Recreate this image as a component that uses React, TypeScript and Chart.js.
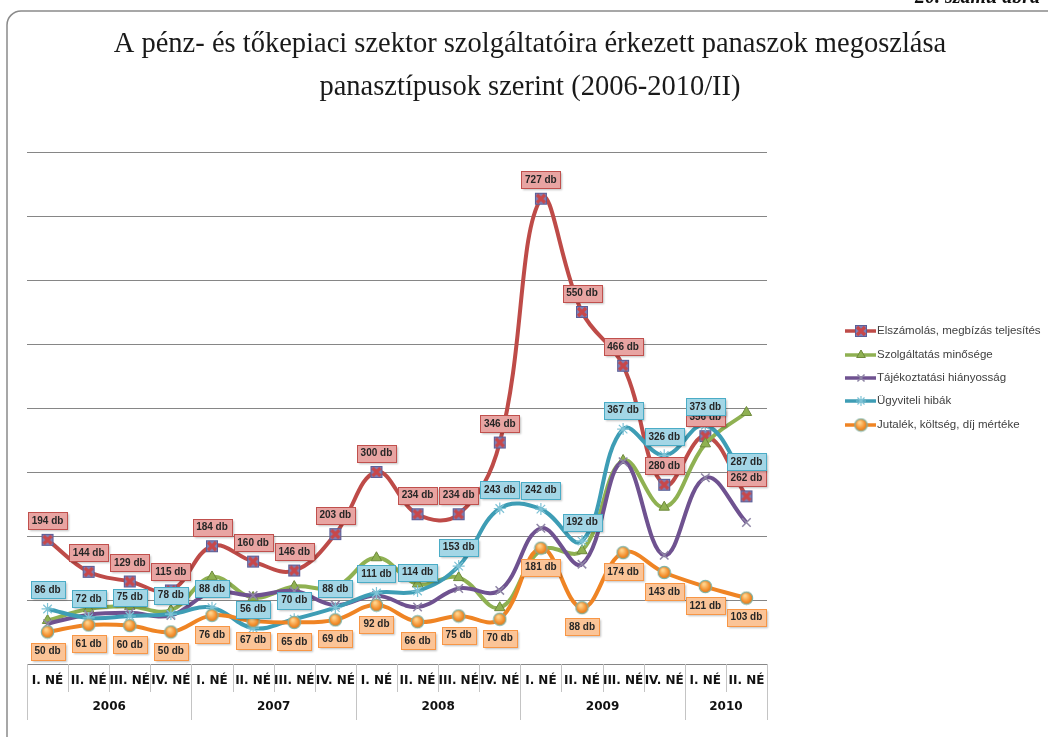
import React, { useEffect, useRef } from 'react';
import { Chart, registerables } from 'chart.js';
import { drawPoint } from 'chart.js/helpers';

Chart.register(...registerables);

const TITLE_LINES = [
  'A pénz- és tőkepiaci szektor szolgáltatóira érkezett panaszok megoszlása',
  'panasztípusok szerint (2006-2010/II)',
];
const FIGURE_NO = '20. számú ábra';

const QUARTERS = [
  'I. NÉ', 'II. NÉ', 'III. NÉ', 'IV. NÉ',
  'I. NÉ', 'II. NÉ', 'III. NÉ', 'IV. NÉ',
  'I. NÉ', 'II. NÉ', 'III. NÉ', 'IV. NÉ',
  'I. NÉ', 'II. NÉ', 'III. NÉ', 'IV. NÉ',
  'I. NÉ', 'II. NÉ',
];
const YEARS = [
  '2006', '2006', '2006', '2006',
  '2007', '2007', '2007', '2007',
  '2008', '2008', '2008', '2008',
  '2009', '2009', '2009', '2009',
  '2010', '2010',
];

const SERIES_NAMES = [
  'Elszámolás, megbízás teljesítés',
  'Szolgáltatás minősége',
  'Tájékoztatási hiányosság',
  'Ügyviteli hibák',
  'Jutalék, költség, díj mértéke',
];

const elszamolas = [194, 144, 129, 115, 184, 160, 146, 203, 300, 234, 234, 346, 727, 550, 466, 280, 356, 262];
const szolgaltatas = [68, 86, 90, 84, 136, 104, 121, 120, 166, 125, 135, 88, 178, 177, 318, 245, 344, 393];
const tajekoztatas = [63, 77, 80, 76, 112, 107, 114, 92, 107, 89, 118, 115, 212, 156, 316, 170, 291, 221];
const ugyviteli = [86, 72, 75, 78, 88, 56, 70, 88, 111, 114, 153, 243, 242, 192, 367, 326, 373, 287];
const jutalek = [50, 61, 60, 50, 76, 67, 65, 69, 92, 66, 75, 70, 181, 88, 174, 143, 121, 103];

const Y_MAX = 800;
const Y_STEP = 100;
const UNIT = ' db';

function makeSquareMarker(): HTMLCanvasElement {
  const c = document.createElement('canvas');
  c.width = 14;
  c.height = 14;
  const g = c.getContext('2d')!;
  g.fillStyle = '#7d80b6';
  g.fillRect(1, 1, 12, 12);
  g.strokeStyle = '#c8474a';
  g.lineWidth = 3.2;
  g.beginPath();
  g.moveTo(3, 3);
  g.lineTo(11, 11);
  g.moveTo(11, 3);
  g.lineTo(3, 11);
  g.stroke();
  g.strokeStyle = '#5b5f98';
  g.lineWidth = 1;
  g.strokeRect(1.5, 1.5, 11, 11);
  return c;
}

function makeCircleMarker(): HTMLCanvasElement {
  const c = document.createElement('canvas');
  c.width = 15;
  c.height = 15;
  const g = c.getContext('2d')!;
  const grad = g.createRadialGradient(6, 5, 1, 7.5, 7.5, 7);
  grad.addColorStop(0, '#ffd28a');
  grad.addColorStop(0.6, '#f4902f');
  grad.addColorStop(1, '#d66f12');
  g.fillStyle = grad;
  g.beginPath();
  g.arc(7.5, 7.5, 6.2, 0, Math.PI * 2);
  g.fill();
  g.strokeStyle = '#7fb3a6';
  g.lineWidth = 1.2;
  g.stroke();
  return c;
}

const LABEL_STYLES: Record<number, { pos: 'above' | 'below'; fill: string; border: string }> = {
  0: { pos: 'above', fill: '#e8a4a2', border: '#c0504d' },
  3: { pos: 'above', fill: '#a3d6e6', border: '#4bacc6' },
  4: { pos: 'below', fill: '#fbc497', border: '#f79646' },
};

const framePlugin = {
  id: 'frameAndTitle',
  beforeDraw(chart: any) {
    const ctx = chart.ctx as CanvasRenderingContext2D;
    ctx.save();
    ctx.fillStyle = '#ffffff';
    ctx.fillRect(0, 0, chart.width, chart.height);
    ctx.strokeStyle = '#8a8a8a';
    ctx.lineWidth = 1.5;
    ctx.beginPath();
    (ctx as any).roundRect(7, 11, 1200, 900, 14);
    ctx.stroke();
    ctx.fillStyle = '#1a1a1a';
    ctx.font = '28.5px "Liberation Serif", serif';
    ctx.textAlign = 'center';
    ctx.textBaseline = 'middle';
    const cx = 530;
    TITLE_LINES.forEach((line, i) => {
      ctx.fillText(line, cx, 45 + i * 43);
    });
    ctx.restore();
  },
};

const tablePlugin = {
  id: 'axisTable',
  afterDraw(chart: any) {
    const ctx = chart.ctx as CanvasRenderingContext2D;
    const xs = chart.scales.x;
    const ca = chart.chartArea;
    const n = QUARTERS.length;
    const half = (xs.getPixelForValue(1) - xs.getPixelForValue(0)) / 2;
    const top = ca.bottom;
    ctx.save();
    ctx.strokeStyle = '#c4c4c4';
    ctx.lineWidth = 1;
    for (let i = 0; i <= n; i++) {
      const bx = Math.round((i < n ? xs.getPixelForValue(i) - half : xs.getPixelForValue(n - 1) + half)) + 0.5;
      const isYear = i === 0 || i === n || YEARS[i] !== YEARS[i - 1];
      ctx.beginPath();
      ctx.moveTo(bx, top);
      ctx.lineTo(bx, top + (isYear ? 56 : 28));
      ctx.stroke();
    }
    ctx.fillStyle = '#111111';
    ctx.font = 'bold 12px "DejaVu Sans", sans-serif';
    ctx.textAlign = 'center';
    ctx.textBaseline = 'middle';
    for (let i = 0; i < n; i++) {
      ctx.fillText(QUARTERS[i], xs.getPixelForValue(i), top + 17);
    }
    let start = 0;
    for (let i = 1; i <= n; i++) {
      if (i === n || YEARS[i] !== YEARS[start]) {
        const x1 = xs.getPixelForValue(start) - half;
        const x2 = xs.getPixelForValue(i - 1) + half;
        ctx.fillText(YEARS[start], (x1 + x2) / 2, top + 43);
        start = i;
      }
    }
    ctx.restore();
  },
};

const labelPlugin = {
  id: 'dataLabels',
  afterDatasetsDraw(chart: any) {
    const ctx = chart.ctx as CanvasRenderingContext2D;
    ctx.save();
    ctx.font = 'bold 10px "Liberation Sans", Arial, sans-serif';
    ctx.textAlign = 'center';
    ctx.textBaseline = 'middle';
    [0, 3, 4].forEach((di) => {
      const st = LABEL_STYLES[di];
      const meta = chart.getDatasetMeta(di);
      const data = chart.data.datasets[di].data as number[];
      meta.data.forEach((pt: any, j: number) => {
        const text = `${data[j]}${UNIT}`;
        const w = Math.ceil(ctx.measureText(text).width) + 7;
        const h = 17;
        const cy = st.pos === 'above' ? pt.y - 19 : pt.y + 19;
        const x = Math.round(pt.x - w / 2) + 0.5;
        const y = Math.round(cy - h / 2) + 0.5;
        ctx.shadowColor = 'rgba(0,0,0,0.25)';
        ctx.shadowOffsetX = 1;
        ctx.shadowOffsetY = 1;
        ctx.shadowBlur = 2;
        ctx.fillStyle = st.fill;
        ctx.fillRect(x, y, w, h);
        ctx.shadowColor = 'transparent';
        ctx.strokeStyle = st.border;
        ctx.lineWidth = 1;
        ctx.strokeRect(x, y, w, h);
        ctx.fillStyle = '#262626';
        ctx.fillText(text, pt.x, cy + 0.5);
      });
    });
    ctx.restore();
  },
};

const legendPlugin = {
  id: 'sideLegend',
  afterDraw(chart: any) {
    const ctx = chart.ctx as CanvasRenderingContext2D;
    const ca = chart.chartArea;
    const x0 = ca.right + 78;
    const yMid = (ca.top + ca.bottom) / 2 - 30;
    const ds = chart.data.datasets;
    const gap = 23.3;
    ctx.save();
    ds.forEach((d: any, i: number) => {
      const y = Math.round(yMid + (i - (ds.length - 1) / 2) * gap);
      ctx.strokeStyle = d.borderColor;
      ctx.lineWidth = 3.5;
      ctx.beginPath();
      ctx.moveTo(x0, y);
      ctx.lineTo(x0 + 31, y);
      ctx.stroke();
      ctx.fillStyle = d.pointBackgroundColor;
      ctx.strokeStyle = d.pointBorderColor;
      ctx.lineWidth = d.pointBorderWidth;
      drawPoint(ctx, { pointStyle: d.pointStyle, rotation: 0, radius: 5, borderWidth: d.pointBorderWidth } as any, x0 + 16, y);
      ctx.fillStyle = '#404040';
      ctx.font = '11.5px "Liberation Sans", Arial, sans-serif';
      ctx.textAlign = 'left';
      ctx.textBaseline = 'middle';
      ctx.fillText(d.label, x0 + 32, y);
    });
    ctx.restore();
  },
};

export default function App() {
  const ref = useRef<HTMLCanvasElement>(null);

  useEffect(() => {
    if (!ref.current) return;
    const square = makeSquareMarker();
    const circle = makeCircleMarker();
    const common = {
      borderWidth: 4,
      tension: 0.4,
      fill: false,
      pointRadius: 6,
    };
    const chart = new Chart(ref.current, {
      type: 'line',
      data: {
        labels: QUARTERS,
        datasets: [
          {
            ...common,
            label: SERIES_NAMES[0],
            data: elszamolas,
            borderColor: '#be4b48',
            pointStyle: square,
            pointBackgroundColor: '#c0504d',
            pointBorderColor: '#5b5f98',
            pointBorderWidth: 1,
            order: 5,
          },
          {
            ...common,
            label: SERIES_NAMES[1],
            data: szolgaltatas,
            borderColor: '#8fb152',
            pointStyle: 'triangle',
            pointBackgroundColor: '#8fb152',
            pointBorderColor: '#6e8a3c',
            pointBorderWidth: 1,
            order: 4,
          },
          {
            ...common,
            label: SERIES_NAMES[2],
            data: tajekoztatas,
            borderColor: '#6f5290',
            pointStyle: 'crossRot',
            pointBackgroundColor: '#8f86a6',
            pointBorderColor: '#8f86a6',
            pointBorderWidth: 1.5,
            order: 3,
          },
          {
            ...common,
            label: SERIES_NAMES[3],
            data: ugyviteli,
            borderColor: '#3e9db5',
            pointStyle: 'star',
            pointBackgroundColor: '#7fc3d6',
            pointBorderColor: '#7fc3d6',
            pointBorderWidth: 1.2,
            order: 2,
          },
          {
            ...common,
            label: SERIES_NAMES[4],
            data: jutalek,
            borderColor: '#ef8424',
            pointStyle: circle,
            pointBackgroundColor: '#f79646',
            pointBorderColor: '#7fb3a6',
            pointBorderWidth: 1,
            order: 1,
          },
        ],
      },
      options: {
        responsive: false,
        animation: false,
        layout: { padding: { left: 27, right: 281, top: 152, bottom: 73 } },
        plugins: {
          legend: { display: false },
          title: { display: false },
          tooltip: { enabled: false },
        },
        scales: {
          x: {
            type: 'category',
            display: false,
            offset: true,
          },
          y: {
            display: true,
            min: 0,
            max: Y_MAX,
            ticks: { display: false, stepSize: Y_STEP },
            grid: { color: '#868686', drawTicks: false, lineWidth: 1 },
            border: { display: false },
            afterFit: (s: any) => {
              s.width = 0;
            },
          },
        },
      },
      plugins: [framePlugin, tablePlugin, labelPlugin, legendPlugin],
    } as any);
    return () => chart.destroy();
  }, []);

  return (
    <div
      style={{
        position: 'absolute',
        left: 0,
        top: 0,
        width: 1048,
        height: 737,
        overflow: 'hidden',
        background: '#ffffff',
      }}
    >
      <canvas ref={ref} width={1048} height={737} style={{ position: 'absolute', left: 0, top: 0 }} />
      <div
        style={{
          position: 'absolute',
          right: 8,
          top: -15,
          font: 'italic bold 20px "Liberation Serif", serif',
          color: '#111',
          whiteSpace: 'nowrap',
        }}
      >
        {FIGURE_NO}
      </div>
    </div>
  );
}
